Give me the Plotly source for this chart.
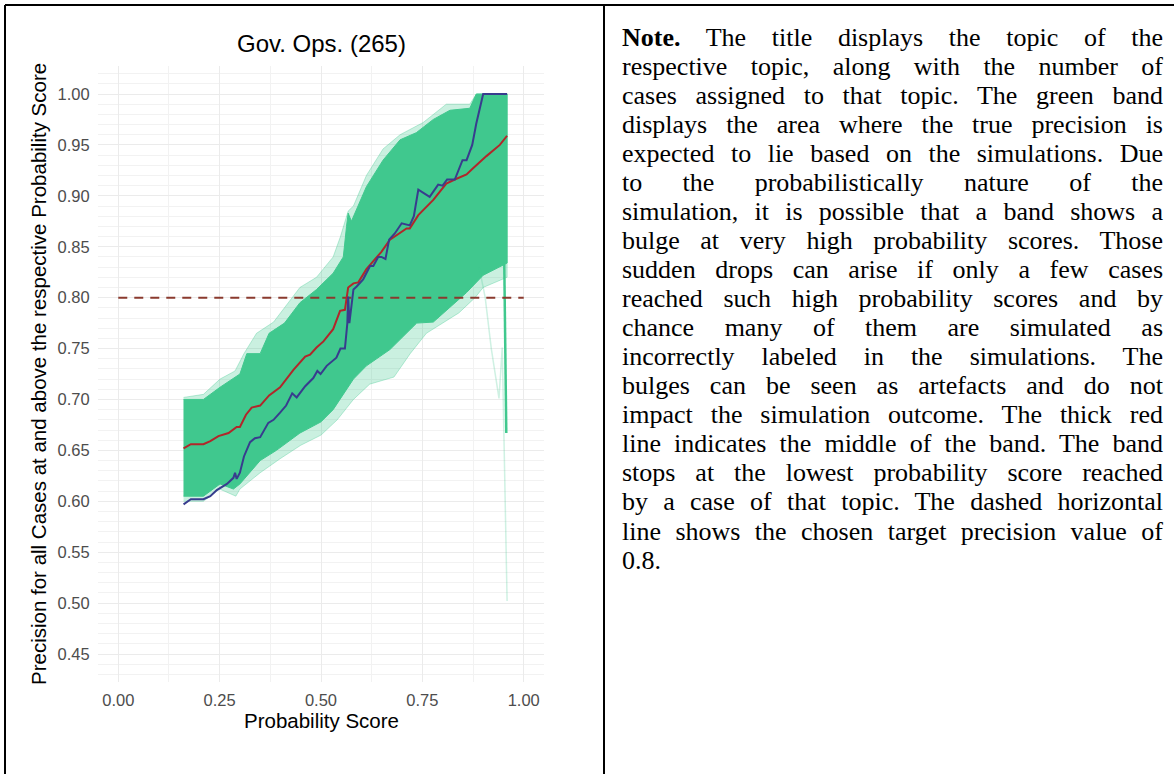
import plotly.graph_objects as go

# ---- data -------------------------------------------------------------
title_text = "Gov. Ops. (265)"
x_title = "Probability Score"
y_title = "Precision for all Cases at and above the respective Probability Score"
target_precision = 0.8

# observed precision curve
blue_x = [0.161, 0.179, 0.210, 0.227, 0.243, 0.268, 0.284, 0.288, 0.292, 0.300,
          0.310, 0.325, 0.337, 0.350, 0.370, 0.383, 0.399, 0.414, 0.429, 0.440,
          0.461, 0.481, 0.491, 0.499, 0.514, 0.538, 0.548, 0.559, 0.565, 0.567,
          0.570, 0.580, 0.588, 0.604, 0.621, 0.629, 0.641, 0.649, 0.659, 0.668,
          0.682, 0.699, 0.719, 0.729, 0.740, 0.768, 0.789, 0.800, 0.811, 0.830,
          0.849, 0.859, 0.873, 0.883, 0.900, 0.959]
blue_y = [0.597, 0.602, 0.602, 0.605, 0.611, 0.617, 0.623, 0.628, 0.622, 0.628,
          0.644, 0.658, 0.662, 0.663, 0.677, 0.680, 0.687, 0.694, 0.706, 0.702,
          0.713, 0.721, 0.728, 0.725, 0.733, 0.741, 0.750, 0.750, 0.775, 0.801,
          0.775, 0.808, 0.811, 0.818, 0.831, 0.831, 0.840, 0.840, 0.838, 0.857,
          0.863, 0.873, 0.871, 0.880, 0.906, 0.899, 0.911, 0.910, 0.916, 0.916,
          0.935, 0.935, 0.950, 0.971, 1.000, 1.000]

# middle of the simulated band
red_x = [0.161, 0.179, 0.210, 0.227, 0.247, 0.272, 0.292, 0.300, 0.315, 0.329,
         0.350, 0.372, 0.399, 0.432, 0.461, 0.473, 0.489, 0.506, 0.530, 0.547,
         0.559, 0.563, 0.567, 0.580, 0.592, 0.612, 0.649, 0.670, 0.711, 0.719,
         0.740, 0.777, 0.809, 0.830, 0.859, 0.875, 0.908, 0.941, 0.959]
red_y = [0.652, 0.656, 0.656, 0.659, 0.664, 0.667, 0.673, 0.673, 0.685, 0.692,
         0.694, 0.704, 0.712, 0.729, 0.742, 0.744, 0.751, 0.757, 0.769, 0.787,
         0.788, 0.798, 0.810, 0.814, 0.815, 0.828, 0.845, 0.857, 0.868, 0.868,
         0.881, 0.896, 0.912, 0.916, 0.921, 0.927, 0.939, 0.950, 0.959]

# dense core of the simulation band
core_upper_x = [0.161, 0.210, 0.251, 0.288, 0.300, 0.317, 0.350, 0.372, 0.410,
                0.448, 0.489, 0.530, 0.555, 0.563, 0.567, 0.575, 0.612, 0.653,
                0.695, 0.735, 0.777, 0.818, 0.867, 0.883, 0.959]
core_upper_y = [0.700, 0.700, 0.712, 0.722, 0.725, 0.745, 0.745, 0.765, 0.775,
                0.795, 0.808, 0.824, 0.840, 0.870, 0.883, 0.875, 0.909, 0.935,
                0.955, 0.962, 0.975, 0.984, 0.986, 1.000, 1.000]
core_lower_x = [0.161, 0.210, 0.251, 0.284, 0.300, 0.350, 0.390, 0.448, 0.500,
                0.530, 0.580, 0.612, 0.670, 0.736, 0.777, 0.818, 0.859, 0.900,
                0.959]
core_lower_y = [0.605, 0.605, 0.617, 0.612, 0.617, 0.640, 0.650, 0.667, 0.678,
                0.690, 0.720, 0.733, 0.749, 0.775, 0.776, 0.790, 0.805, 0.822,
                0.834]

# faint outer envelope of the individual simulation runs
halo_upper_x = [0.161, 0.210, 0.251, 0.288, 0.310, 0.341, 0.383, 0.448, 0.489,
                0.530, 0.548, 0.567, 0.580, 0.612, 0.653, 0.695, 0.752, 0.777,
                0.809, 0.867, 0.883, 0.959]
halo_upper_y = [0.702, 0.705, 0.720, 0.728, 0.745, 0.765, 0.776, 0.810, 0.820,
                0.840, 0.860, 0.885, 0.890, 0.920, 0.946, 0.960, 0.972, 0.980,
                0.990, 0.990, 1.000, 1.000]
halo_lower_x = [0.161, 0.210, 0.250, 0.290, 0.300, 0.350, 0.400, 0.450, 0.500,
                0.540, 0.580, 0.620, 0.680, 0.720, 0.760, 0.800, 0.840, 0.880,
                0.900, 0.959]
halo_lower_y = [0.600, 0.600, 0.612, 0.605, 0.612, 0.628, 0.642, 0.655, 0.665,
                0.680, 0.700, 0.715, 0.722, 0.745, 0.765, 0.775, 0.785, 0.800,
                0.810, 0.820]

# single runs that collapse at the highest scores
drop_run_x = [0.952, 0.957]
drop_run_y = [0.834, 0.667]
faint_run_x = [0.890, 0.905, 0.920, 0.939, 0.947, 0.959]
faint_run_y = [0.830, 0.800, 0.750, 0.701, 0.751, 0.502]

x_ticks = [0.0, 0.25, 0.5, 0.75, 1.0]
y_ticks = [0.45, 0.50, 0.55, 0.60, 0.65, 0.70, 0.75, 0.80, 0.85, 0.90, 0.95, 1.00]

note_lines = [
    "<b>Note.</b> The title displays the topic of the",
    "respective topic, along with the number of",
    "cases assigned to that topic. The green band",
    "displays the area where the true precision is",
    "expected to lie based on the simulations. Due",
    "to the probabilistically nature of the",
    "simulation, it is possible that a band shows a",
    "bulge at very high probability scores. Those",
    "sudden drops can arise if only a few cases",
    "reached such high probability scores and by",
    "chance many of them are simulated as",
    "incorrectly labeled in the simulations. The",
    "bulges can be seen as artefacts and do not",
    "impact the simulation outcome. The thick red",
    "line indicates the middle of the band. The band",
    "stops at the lowest probability score reached",
    "by a case of that topic. The dashed horizontal",
    "line shows the chosen target precision value of",
    "0.8.",
]

# ---- page geometry (pixels) -------------------------------------------
W, H = 1174, 774
PLOT_L, PLOT_R, PLOT_T, PLOT_B = 98, 544, 66, 682


def px(x):
    return x / W


def py(y):
    return 1 - y / H


GREEN = "rgb(64,200,142)"
GREEN_FAINT = "rgba(64,200,142,0.28)"
BLUE = "#383C8E"
RED = "#B2262A"
TARGET_COL = "#8A3A2E"

fig = go.Figure()

fig.add_trace(go.Scatter(
    x=halo_upper_x + halo_lower_x[::-1], y=halo_upper_y + halo_lower_y[::-1],
    fill="toself", fillcolor=GREEN_FAINT, mode="lines",
    line=dict(color="rgba(64,200,142,0.35)", width=1), hoverinfo="skip"))
fig.add_trace(go.Scatter(
    x=core_upper_x + core_lower_x[::-1], y=core_upper_y + core_lower_y[::-1],
    fill="toself", fillcolor=GREEN, mode="lines",
    line=dict(color=GREEN, width=1), hoverinfo="skip"))
fig.add_trace(go.Scatter(x=faint_run_x, y=faint_run_y, mode="lines",
                         line=dict(color="rgba(64,200,142,0.25)", width=1.5)))
fig.add_trace(go.Scatter(x=drop_run_x, y=drop_run_y, mode="lines",
                         line=dict(color=GREEN, width=2.5)))

fig.add_trace(go.Scatter(x=[0, 1], y=[target_precision, target_precision],
                         mode="lines",
                         line=dict(color=TARGET_COL, width=2, dash="9px,7px")))

fig.add_trace(go.Scatter(x=red_x, y=red_y, mode="lines",
                         line=dict(color=RED, width=2)))
fig.add_trace(go.Scatter(x=blue_x, y=blue_y, mode="lines",
                         line=dict(color=BLUE, width=2)))

annotations = []
LINE0, LINE_STEP = 37, 29.06
for i, line in enumerate(note_lines):
    annotations.append(dict(
        text=line, xref="paper", yref="paper",
        x=px(620), y=py(LINE0 + i * LINE_STEP),
        xanchor="left", yanchor="middle", align="left", showarrow=False,
        font=dict(family="Liberation Serif", size=26, color="black")))

annotations.append(dict(
    text=title_text, xref="paper", yref="paper",
    x=px((PLOT_L + PLOT_R) / 2), y=py(44), xanchor="center", yanchor="middle",
    showarrow=False, font=dict(family="Liberation Sans", size=24, color="black")))
annotations.append(dict(
    text=x_title, xref="paper", yref="paper",
    x=px((PLOT_L + PLOT_R) / 2), y=py(720), xanchor="center", yanchor="middle",
    showarrow=False, font=dict(family="Liberation Sans", size=20.5, color="black")))
annotations.append(dict(
    text=y_title, xref="paper", yref="paper", textangle=-90,
    x=px(38), y=py((PLOT_T + PLOT_B) / 2), xanchor="center", yanchor="middle",
    showarrow=False, font=dict(family="Liberation Sans", size=20.5, color="black")))

# table-style frame around the chart and its note
frame = dict(color="black", width=2)
shapes = [
    dict(type="line", xref="paper", yref="paper", x0=px(5), x1=1, y0=py(5), y1=py(5), line=frame),
    dict(type="line", xref="paper", yref="paper", x0=px(5), x1=px(5), y0=py(5), y1=0, line=frame),
    dict(type="line", xref="paper", yref="paper", x0=px(604), x1=px(604), y0=py(5), y1=0, line=frame),
]

axis_font = dict(family="Liberation Sans", size=16.5, color="#4D4D4D")
fig.update_layout(
    width=W, height=H, margin=dict(l=0, r=0, t=0, b=0),
    paper_bgcolor="white", plot_bgcolor="white", showlegend=False,
    annotations=annotations, shapes=shapes,
    xaxis=dict(domain=[px(PLOT_L), px(PLOT_R)], range=[-0.05, 1.05],
               tickvals=x_ticks, ticktext=[f"{v:.2f}" for v in x_ticks],
               showgrid=True, gridcolor="#EBEBEB", gridwidth=1.2,
               minor=dict(dtick=0.125, tick0=0, showgrid=True,
                          gridcolor="#F2F2F2", gridwidth=1),
               zeroline=False, showline=False, ticks="outside", ticklen=3,
               tickcolor="rgba(0,0,0,0)", tickfont=axis_font),
    yaxis=dict(domain=[py(PLOT_B), py(PLOT_T)], range=[0.4225, 1.0275],
               tickvals=y_ticks, ticktext=[f"{v:.2f}" for v in y_ticks],
               showgrid=True, gridcolor="#EBEBEB", gridwidth=1.2,
               minor=dict(dtick=0.01, tick0=0.45, showgrid=True,
                          gridcolor="#F2F2F2", gridwidth=1),
               zeroline=False, showline=False, ticks="outside", ticklen=4,
               tickcolor="rgba(0,0,0,0)", tickfont=axis_font),
)

# justify every note line except the last one to the column width
justify_js = """
var gd = document.getElementById('{plot_id}');
var TARGET = 541, NJUST = %d;
function justifyNote() {
  gd.querySelectorAll('g.annotation').forEach(function (g) {
    var idx = parseInt(g.getAttribute('data-index'), 10);
    if (isNaN(idx) || idx >= NJUST) return;
    var t = g.querySelector('text.annotation-text');
    if (!t) return;
    t.style.wordSpacing = '0px';
    var w = t.getComputedTextLength();
    var n = (t.textContent.match(/ /g) || []).length;
    if (n > 0) t.style.wordSpacing = ((TARGET - w) / n) + 'px';
  });
}
justifyNote();
gd.on('plotly_afterplot', justifyNote);
""" % (len(note_lines) - 1)

fig.write_html("out.html", post_script=justify_js)
